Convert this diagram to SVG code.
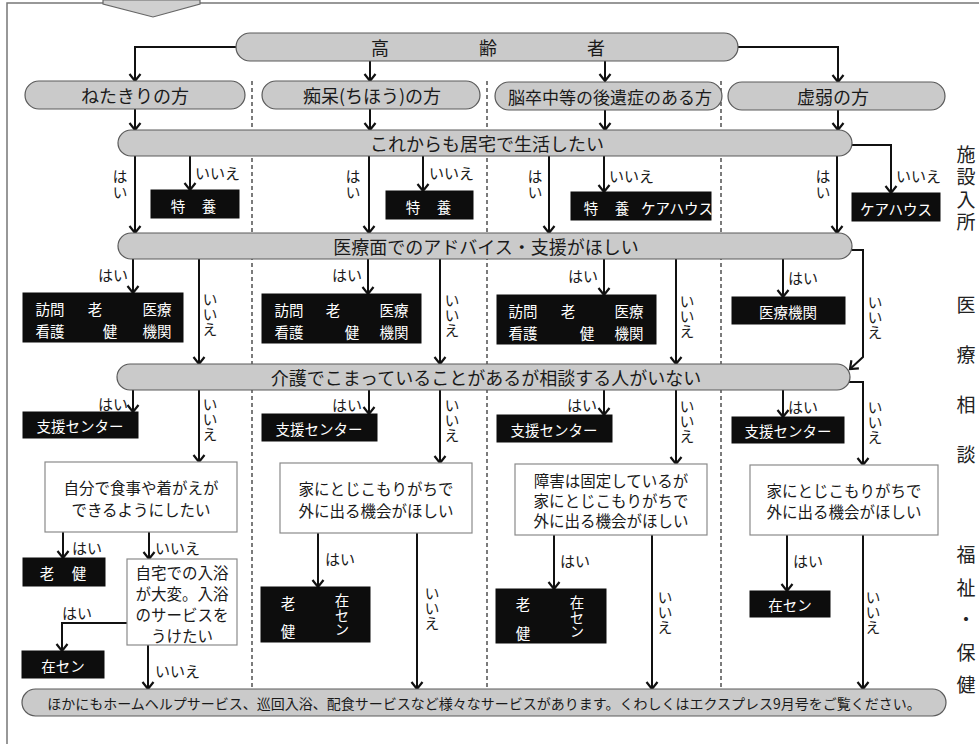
<svg xmlns="http://www.w3.org/2000/svg" width="979" height="744" viewBox="0 0 979 744">
<style>
text{font-family:"Noto Sans CJK JP","Noto Sans",sans-serif;fill:#1a1a1a;dominant-baseline:central}
.pill{fill:#cacaca;stroke:#5a5a5a;stroke-width:1.2}
.pt{font-size:18px;text-anchor:middle}
.pt17{font-size:17px;text-anchor:middle}
.pt14{font-size:14px;text-anchor:middle}
.blk{fill:#0d0d0d;stroke:#0d0d0d}
.bt{font-size:14.5px;fill:#fff;text-anchor:middle}
.wb{fill:#fff;stroke:#8a8a8a;stroke-width:1.2}
.wt{font-size:15.5px;text-anchor:middle}
.lb{font-size:15px}
.vt{font-size:15px;text-anchor:middle;writing-mode:vertical-rl;text-orientation:upright}
.vw{writing-mode:vertical-rl;text-orientation:upright}
.side{font-size:19px;text-anchor:middle;fill:#222;writing-mode:vertical-rl;text-orientation:upright}
.c{fill:none;stroke:#111;stroke-width:2}
.sep{stroke:#444;stroke-width:1.4;stroke-dasharray:4 3}
</style>
<defs>
<marker id="a" markerWidth="14" markerHeight="14" refX="11" refY="7" orient="auto" markerUnits="userSpaceOnUse">
<path d="M4,1.5 L11,7 L4,12.5" fill="none" stroke="#111" stroke-width="2.2"/>
</marker>
</defs>
<rect width="979" height="744" fill="#fff"/>
<g id="frame">
<path d="M7,744 V3 H103 M200,3 H979" fill="none" stroke="#777" stroke-width="1.5"/>
<polygon points="103,0 103,4 153,17 200,4 200,0" fill="#d0d0d0" stroke="#666" stroke-width="1.2"/>
</g>
<g id="separators">
<line class="sep" x1="252" y1="81" x2="252" y2="689"/>
<line class="sep" x1="487" y1="81" x2="487" y2="689"/>
<line class="sep" x1="721" y1="81" x2="721" y2="689"/>
</g>
<g id="connectors">
<path class="c" d="M236,47 H135 V81" marker-end="url(#a)"/>
<path class="c" d="M370,61 V81" marker-end="url(#a)"/>
<path class="c" d="M605,61 V81" marker-end="url(#a)"/>
<path class="c" d="M738,47 H838 V82" marker-end="url(#a)"/>
<path class="c" d="M135,109 V130" marker-end="url(#a)"/>
<path class="c" d="M370,109 V130" marker-end="url(#a)"/>
<path class="c" d="M605,110 V130" marker-end="url(#a)"/>
<path class="c" d="M838,110 V130" marker-end="url(#a)"/>
<path class="c" d="M135,156 V233" marker-end="url(#a)"/>
<path class="c" d="M190,156 V190" marker-end="url(#a)"/>
<path class="c" d="M369,156 V233" marker-end="url(#a)"/>
<path class="c" d="M423,156 V191" marker-end="url(#a)"/>
<path class="c" d="M549,156 V233" marker-end="url(#a)"/>
<path class="c" d="M604,156 V192" marker-end="url(#a)"/>
<path class="c" d="M837,156 V233" marker-end="url(#a)"/>
<path class="c" d="M852,145 H891 V193" marker-end="url(#a)"/>
<path class="c" d="M133,259 V293" marker-end="url(#a)"/>
<path class="c" d="M199,259 V364" marker-end="url(#a)"/>
<path class="c" d="M368,259 V294" marker-end="url(#a)"/>
<path class="c" d="M440,259 V364" marker-end="url(#a)"/>
<path class="c" d="M604,259 V295" marker-end="url(#a)"/>
<path class="c" d="M676,259 V364" marker-end="url(#a)"/>
<path class="c" d="M783,259 V297" marker-end="url(#a)"/>
<path class="c" d="M851,250 H863 V357 L850,369" marker-end="url(#a)"/>
<path class="c" d="M133,390 V412" marker-end="url(#a)"/>
<path class="c" d="M199,390 V462" marker-end="url(#a)"/>
<path class="c" d="M369,390 V414" marker-end="url(#a)"/>
<path class="c" d="M440,390 V463" marker-end="url(#a)"/>
<path class="c" d="M604,390 V415" marker-end="url(#a)"/>
<path class="c" d="M676,390 V464" marker-end="url(#a)"/>
<path class="c" d="M783,390 V417" marker-end="url(#a)"/>
<path class="c" d="M849,382 H863 V465" marker-end="url(#a)"/>
<path class="c" d="M63,532 V558" marker-end="url(#a)"/>
<path class="c" d="M149,532 V559" marker-end="url(#a)"/>
<path class="c" d="M127,623 H62 V651" marker-end="url(#a)"/>
<path class="c" d="M148,645 V689" marker-end="url(#a)"/>
<path class="c" d="M318,533 V587" marker-end="url(#a)"/>
<path class="c" d="M417,533 V689" marker-end="url(#a)"/>
<path class="c" d="M554,535 V589" marker-end="url(#a)"/>
<path class="c" d="M652,535 V689" marker-end="url(#a)"/>
<path class="c" d="M787,535 V591" marker-end="url(#a)"/>
<path class="c" d="M863,535 V689" marker-end="url(#a)"/>
</g>
<g id="n-koreisha"><rect class="pill" x="236" y="33" width="502" height="28" rx="14"/>
<text class="pt" x="380" y="47">高</text><text class="pt" x="488" y="47">齢</text><text class="pt" x="596" y="47">者</text></g>
<g id="n-netakiri"><rect class="pill" x="25" y="81" width="220" height="28" rx="14"/><text class="pt" x="135" y="95">ねたきりの方</text></g>
<g id="n-chiho"><rect class="pill" x="262" y="81" width="218" height="28" rx="14"/><text class="pt" x="372" y="95">痴呆(ちほう)の方</text></g>
<g id="n-nosotchu"><rect class="pill" x="495" y="82" width="227" height="28" rx="14"/><text class="pt17" x="610" y="96">脳卒中等の後遺症のある方</text></g>
<g id="n-kyojaku"><rect class="pill" x="728" y="82" width="217" height="28" rx="14"/><text class="pt" x="833" y="96">虚弱の方</text></g>
<g id="n-kyotaku"><rect class="pill" x="118" y="130" width="734" height="26" rx="13"/><text class="pt" x="487" y="143">これからも居宅で生活したい</text></g>
<g id="n-iryo"><rect class="pill" x="118" y="233" width="734" height="26" rx="13"/><text class="pt" x="486" y="246">医療面でのアドバイス・支援がほしい</text></g>
<g id="n-kaigo"><rect class="pill" x="117" y="364" width="733" height="26" rx="13"/><text class="pt" x="486" y="377">介護でこまっていることがあるが相談する人がいない</text></g>
<g id="n-hoka"><rect class="pill" x="22" y="689" width="924" height="27" rx="13.5"/><text class="pt14" x="484" y="703">ほかにもホームヘルプサービス、巡回入浴、配食サービスなど様々なサービスがあります。くわしくはエクスプレス9月号をご覧ください。</text></g>
<g id="n-tokuyo1"><rect class="blk" x="151" y="190" width="88" height="28"/><text class="bt" x="178" y="205">特</text><text class="bt" x="209" y="205">養</text></g>
<g id="n-tokuyo2"><rect class="blk" x="386" y="191" width="87" height="28"/><text class="bt" x="413" y="206">特</text><text class="bt" x="444" y="206">養</text></g>
<g id="n-tokuyo3"><rect class="blk" x="571" y="192" width="140" height="28"/><text class="bt" x="591" y="207">特</text><text class="bt" x="622" y="207">養</text><text class="bt" x="677" y="207">ケアハウス</text></g>
<g id="n-carehouse"><rect class="blk" x="852" y="193" width="88" height="28"/><text class="bt" x="896" y="208">ケアハウス</text></g>
<g id="n-homon1"><rect class="blk" x="23" y="293" width="160" height="49"/>
<text class="bt" x="50" y="308">訪問</text><text class="bt" x="95" y="308">老</text><text class="bt" x="157" y="308">医療</text>
<text class="bt" x="50" y="330">看護</text><text class="bt" x="110" y="330">健</text><text class="bt" x="157" y="330">機関</text></g>
<g id="n-homon2"><rect class="blk" x="262" y="294" width="159" height="49"/>
<text class="bt" x="289" y="309">訪問</text><text class="bt" x="333" y="309">老</text><text class="bt" x="394" y="309">医療</text>
<text class="bt" x="289" y="331">看護</text><text class="bt" x="352" y="331">健</text><text class="bt" x="394" y="331">機関</text></g>
<g id="n-homon3"><rect class="blk" x="497" y="295" width="159" height="49"/>
<text class="bt" x="523" y="310">訪問</text><text class="bt" x="568" y="310">老</text><text class="bt" x="629" y="310">医療</text>
<text class="bt" x="523" y="332">看護</text><text class="bt" x="587" y="332">健</text><text class="bt" x="629" y="332">機関</text></g>
<g id="n-iryokikan"><rect class="blk" x="732" y="297" width="113" height="27"/><text class="bt" x="788" y="311">医療機関</text></g>
<g id="n-shien1"><rect class="blk" x="23" y="412" width="115" height="26"/><text class="bt" x="80" y="425">支援センター</text></g>
<g id="n-shien2"><rect class="blk" x="262" y="414" width="115" height="27"/><text class="bt" x="319" y="428">支援センター</text></g>
<g id="n-shien3"><rect class="blk" x="497" y="415" width="115" height="27"/><text class="bt" x="554" y="429">支援センター</text></g>
<g id="n-shien4"><rect class="blk" x="732" y="417" width="112" height="26"/><text class="bt" x="788" y="430">支援センター</text></g>
<g id="n-jibun"><rect class="wb" x="45" y="462" width="192" height="70"/><text class="wt" x="141" y="487">自分で食事や着がえが</text><text class="wt" x="141" y="509">できるようにしたい</text></g>
<g id="n-ie2"><rect class="wb" x="280" y="463" width="192" height="70"/><text class="wt" x="376" y="488">家にとじこもりがちで</text><text class="wt" x="376" y="510">外に出る機会がほしい</text></g>
<g id="n-shogai"><rect class="wb" x="515" y="464" width="192" height="71"/><text class="wt" x="611" y="480">障害は固定しているが</text><text class="wt" x="611" y="500">家にとじこもりがちで</text><text class="wt" x="611" y="520">外に出る機会がほしい</text></g>
<g id="n-ie4"><rect class="wb" x="750" y="465" width="188" height="70"/><text class="wt" x="844" y="490">家にとじこもりがちで</text><text class="wt" x="844" y="511">外に出る機会がほしい</text></g>
<g id="n-jitaku"><rect class="wb" x="127" y="559" width="110" height="86"/><text class="wt" x="182" y="572">自宅での入浴</text><text class="wt" x="182" y="593">が大変。入浴</text><text class="wt" x="182" y="614">のサービスを</text><text class="wt" x="182" y="635">うけたい</text></g>
<g id="n-roken1"><rect class="blk" x="23" y="558" width="82" height="28"/><text class="bt" x="47" y="572">老</text><text class="bt" x="79" y="572">健</text></g>
<g id="n-zaisen1"><rect class="blk" x="22" y="651" width="82" height="27"/><text class="bt" x="63" y="665">在セン</text></g>
<g id="n-rokenzaisen2"><rect class="blk" x="261" y="587" width="109" height="55"/><text class="bt" x="288" y="602">老</text><text class="bt" x="288" y="630">健</text><text class="bt vw" x="342" y="615">在セン</text></g>
<g id="n-rokenzaisen3"><rect class="blk" x="496" y="589" width="110" height="54"/><text class="bt" x="523" y="603">老</text><text class="bt" x="523" y="632">健</text><text class="bt vw" x="577" y="617">在セン</text></g>
<g id="n-zaisen4"><rect class="blk" x="750" y="591" width="80" height="26"/><text class="bt" x="790" y="604">在セン</text></g>
<g id="labels">
<text class="vt" x="120" y="185" letter-spacing="1">はい</text><text class="lb" x="195" y="172">いいえ</text>
<text class="vt" x="353" y="185" letter-spacing="1">はい</text><text class="lb" x="429" y="172">いいえ</text>
<text class="vt" x="535" y="185" letter-spacing="1">はい</text><text class="lb" x="609" y="175">いいえ</text>
<text class="vt" x="823" y="185" letter-spacing="1">はい</text><text class="lb" x="896" y="175">いいえ</text>
<text class="lb" x="128" y="274" text-anchor="end">はい</text>
<text class="lb" x="362" y="274" text-anchor="end">はい</text>
<text class="lb" x="598" y="275" text-anchor="end">はい</text>
<text class="lb" x="788" y="277">はい</text>
<text class="vt" x="210" y="314">いいえ</text>
<text class="vt" x="452" y="315">いいえ</text>
<text class="vt" x="687" y="316">いいえ</text>
<text class="vt" x="875" y="317">いいえ</text>
<text class="lb" x="128" y="403" text-anchor="end">はい</text>
<text class="lb" x="362" y="404" text-anchor="end">はい</text>
<text class="lb" x="597" y="404" text-anchor="end">はい</text>
<text class="lb" x="788" y="406">はい</text>
<text class="vt" x="210" y="419">いいえ</text>
<text class="vt" x="452" y="420">いいえ</text>
<text class="vt" x="687" y="421">いいえ</text>
<text class="vt" x="875" y="422">いいえ</text>
<text class="lb" x="72" y="547">はい</text><text class="lb" x="155" y="547">いいえ</text>
<text class="lb" x="62" y="612">はい</text><text class="lb" x="155" y="670">いいえ</text>
<text class="lb" x="325" y="558">はい</text>
<text class="vt" x="432" y="608">いいえ</text>
<text class="lb" x="560" y="560">はい</text>
<text class="vt" x="665" y="612">いいえ</text>
<text class="lb" x="793" y="560">はい</text>
<text class="vt" x="873" y="612">いいえ</text>
</g>
<g id="side">
<text class="side" x="966" y="190" letter-spacing="3.3">施設入所</text>
<text class="side" x="966" y="395" letter-spacing="31">医療相談</text>
<text class="side" x="966" y="627" letter-spacing="13.5">福祉・保健</text>
</g>
</svg>
